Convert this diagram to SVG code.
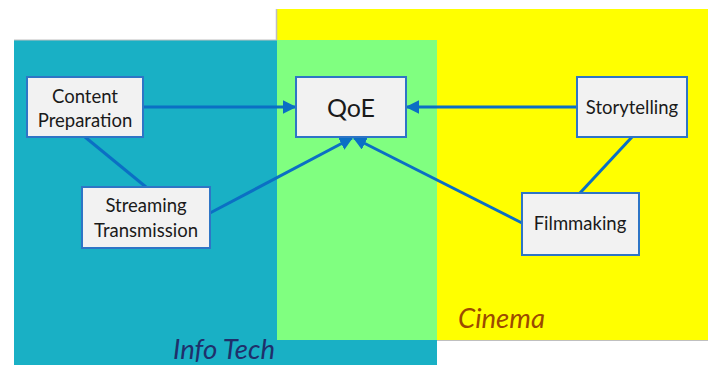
<svg xmlns="http://www.w3.org/2000/svg" width="708" height="365" viewBox="0 0 708 365">
<style>
.box{fill:#F2F2F2;stroke:#2E75C6;stroke-width:2}
.t{font-family:Lato,"Open Sans",sans-serif;font-size:18.5px;fill:#1a1a1a;text-anchor:middle}
.big{font-size:25px}
.lab{font-family:Lato,"Open Sans",sans-serif;font-style:italic;font-size:27.5px}
.con{stroke:#0B6FC4;stroke-width:3;fill:none}
</style>
<defs>
<marker id="ah" viewBox="0 0 10 10" refX="9" refY="5" markerWidth="4.5" markerHeight="4.5" orient="auto" markerUnits="strokeWidth">
<path d="M0,0 L10,5 L0,10 z" fill="#0B6FC4"/>
</marker>
</defs>
<rect width="708" height="365" fill="#FFFFFF"/>
<g id="regions">
<rect x="277" y="9" width="431" height="331" fill="#FFFF00"/>
<rect x="14" y="40" width="423" height="325" fill="#19B0C5"/>
<rect x="277" y="40" width="160" height="300" fill="#80FF80"/>
<line x1="276.5" y1="9" x2="276.5" y2="40" stroke="#BFBFBF" stroke-width="1.5"/>
<line x1="14" y1="40" x2="277" y2="40" stroke="#BFBFBF" stroke-width="1"/>
<line x1="437" y1="340.5" x2="708" y2="340.5" stroke="#BFBFBF" stroke-width="1"/>
<text class="lab" x="173" y="359" fill="#1F2F6B">Info Tech</text>
<text class="lab" x="458" y="328" fill="#9C4A00">Cinema</text>
</g>
<g id="connectors">
<line class="con" x1="85" y1="137" x2="146" y2="187"/>
<line class="con" x1="632" y1="137" x2="580" y2="193"/>
<line class="con" x1="143" y1="107" x2="295" y2="107" marker-end="url(#ah)"/>
<line class="con" x1="577" y1="107" x2="407" y2="107" marker-end="url(#ah)"/>
<line class="con" x1="210" y1="213" x2="352" y2="138" marker-end="url(#ah)"/>
<line class="con" x1="522" y1="223" x2="354" y2="138" marker-end="url(#ah)"/>
</g>
<g id="content-preparation">
<rect class="box" x="27" y="77" width="116" height="60"/>
<text class="t" x="85" y="103">Content</text>
<text class="t" x="85" y="127">Preparation</text>
</g>
<g id="qoe">
<rect class="box" x="296" y="77" width="110" height="60"/>
<text class="t big" x="351" y="117">QoE</text>
</g>
<g id="storytelling">
<rect class="box" x="577" y="77" width="110" height="60"/>
<text class="t" x="632" y="114">Storytelling</text>
</g>
<g id="streaming-transmission">
<rect class="box" x="82" y="187" width="128" height="61"/>
<text class="t" x="146" y="212">Streaming</text>
<text class="t" x="146" y="237">Transmission</text>
</g>
<g id="filmmaking">
<rect class="box" x="522" y="193" width="117" height="62"/>
<text class="t" x="580" y="230">Filmmaking</text>
</g>
</svg>
